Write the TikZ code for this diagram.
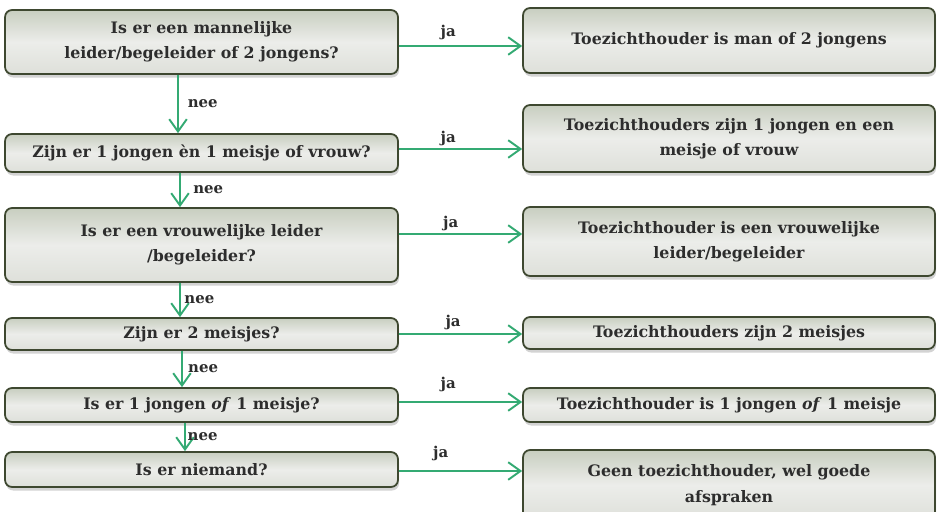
\documentclass[tikz,border=0pt]{standalone}
\usepackage{fontspec}
\setmainfont{DejaVu Serif}
\usetikzlibrary{arrows.meta,shadows}
\definecolor{pijlgroen}{RGB}{52,170,115}
\definecolor{randgroen}{RGB}{62,72,48}
\definecolor{tekstgrijs}{RGB}{45,45,45}
\definecolor{vakboven}{RGB}{200,206,192}
\definecolor{vakmidden}{RGB}{236,237,234}
\definecolor{vakonder}{RGB}{222,224,218}
\begin{document}
\begin{tikzpicture}[x=0.02cm,y=-0.02cm]
	\useasboundingbox (0,0) rectangle (939,511);
	\tikzstyle{vak}=[rectangle, rounded corners=4pt, draw=randgroen, line width=1pt, top color=vakboven, bottom color=vakonder, middle color=vakmidden, drop shadow={shadow xshift=0.6pt, shadow yshift=-2pt, opacity=0.35}, align=center, inner sep=2pt, text=tekstgrijs, font=\bfseries\fontsize{9}{14.5}\selectfont]
	\tikzstyle{links}=[vak, minimum width=7.86cm]
	\tikzstyle{rechts}=[vak, minimum width=8.24cm]
	\tikzstyle{pijl}=[-{Straight Barb[length=7pt,width=10pt]}, pijlgroen, line width=1.1pt]
	\tikzstyle{keuze}=[text=tekstgrijs, font=\bfseries\fontsize{8.5}{10}\selectfont, inner sep=1pt]

	\node[links, minimum height=1.28cm] (L1) at (201.5,42) {Is er een mannelijke\\leider/begeleider of 2 jongens?};
	\node[links, minimum height=0.76cm] (L2) at (201.5,153) {Zijn er 1 jongen èn 1 meisje of vrouw?};
	\node[links, minimum height=1.48cm] (L3) at (201.5,245) {Is er een vrouwelijke leider\\/begeleider?};
	\node[links, minimum height=0.64cm] (L4) at (201.5,334) {Zijn er 2 meisjes?};
	\node[links, minimum height=0.68cm] (L5) at (201.5,405) {Is er 1 jongen \textit{of} 1 meisje?};
	\node[links, minimum height=0.70cm] (L6) at (201.5,469.5) {Is er niemand?};

	\node[rechts, minimum height=1.30cm] (R1) at (729,40.5) {Toezichthouder is man of 2 jongens};
	\node[rechts, minimum height=1.34cm] (R2) at (729,138.5) {Toezichthouders zijn 1 jongen en een\\meisje of vrouw};
	\node[rechts, minimum height=1.38cm] (R3) at (729,241.5) {Toezichthouder is een vrouwelijke\\leider/begeleider};
	\node[rechts, minimum height=0.64cm] (R4) at (729,333) {Toezichthouders zijn 2 meisjes};
	\node[rechts, minimum height=0.68cm] (R5) at (729,405) {Toezichthouder is 1 jongen \textit{of} 1 meisje};
	\node[rechts, minimum height=1.40cm] (R6) at (729,485) {Geen toezichthouder, wel goede\\afspraken};

	% ja
	\draw[pijl] ([yshift=-0.08cm]L1.east) -- ([yshift=-0.08cm]L1.east -| R1.west) node[keuze, pos=0.4, above=2pt] {ja};
	\draw[pijl] ([yshift=0.08cm]L2.east) -- ([yshift=0.08cm]L2.east -| R2.west) node[keuze, pos=0.4, above=0pt] {ja};
	\draw[pijl] ([yshift=0.22cm]L3.east) -- ([yshift=0.22cm]L3.east -| R3.west) node[keuze, pos=0.42, above=0pt] {ja};
	\draw[pijl] (L4.east) -- (L4.east -| R4.west) node[keuze, pos=0.44, above=1pt] {ja};
	\draw[pijl] ([yshift=0.06cm]L5.east) -- ([yshift=0.06cm]L5.east -| R5.west) node[keuze, pos=0.4, above=4pt] {ja};
	\draw[pijl] ([yshift=-0.03cm]L6.east) -- ([yshift=-0.03cm]L6.east -| R6.west) node[keuze, pos=0.34, above=4pt] {ja};

	% nee
	\draw[pijl] ([xshift=-0.47cm]L1.south) -- ([xshift=-0.47cm]L2.north) node[keuze, midway, right=4pt] {nee};
	\draw[pijl] ([xshift=-0.43cm]L2.south) -- ([xshift=-0.43cm]L3.north) node[keuze, midway, right=6pt] {nee};
	\draw[pijl] ([xshift=-0.43cm]L3.south) -- ([xshift=-0.43cm]L4.north) node[keuze, midway, right=1pt] {nee};
	\draw[pijl] ([xshift=-0.39cm]L4.south) -- ([xshift=-0.39cm]L5.north) node[keuze, midway, right=2pt] {nee};
	\draw[pijl] ([xshift=-0.33cm]L5.south) -- ([xshift=-0.33cm]L6.north) node[keuze, midway, right=0pt] {nee};
\end{tikzpicture}
\end{document}
